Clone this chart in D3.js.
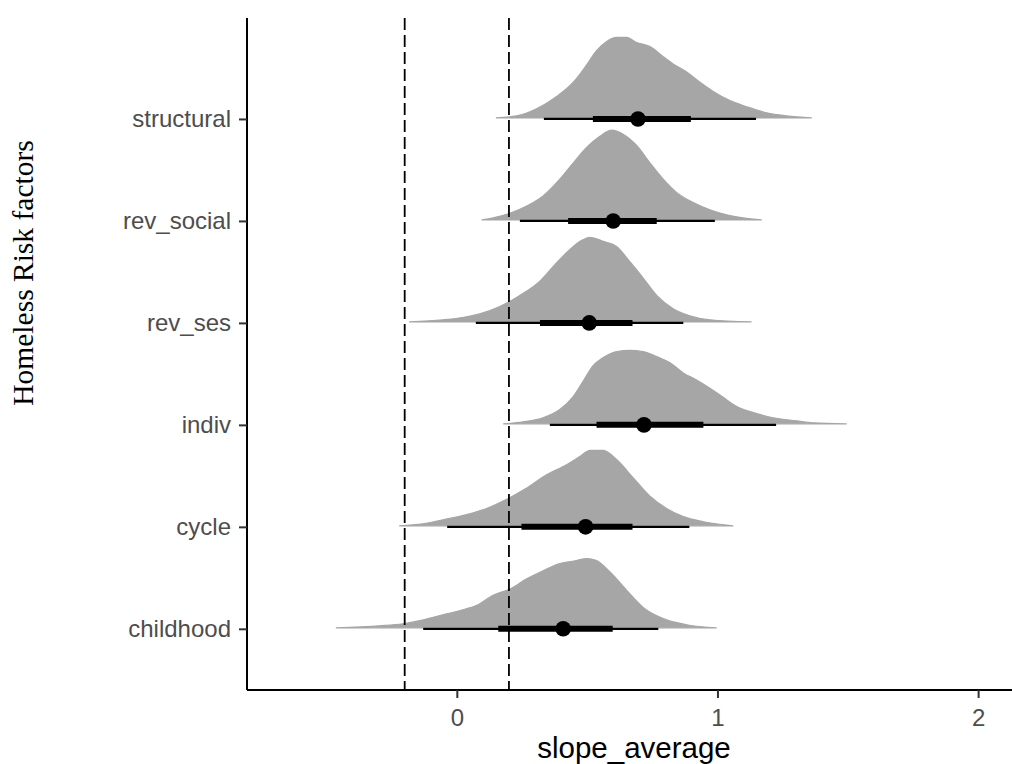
<!DOCTYPE html>
<html>
<head>
<meta charset="utf-8">
<script src="https://cdn.jsdelivr.net/npm/d3@7"></script>
<style>
    body { margin: 0; background: #fff; }
    svg { display: block; }
    .tick-label { font-family: 'Liberation Sans', Arial, sans-serif; font-size: 24px; fill: #4d4d4d; }
    .axis-title-x { font-family: 'Liberation Sans', Arial, sans-serif; font-size: 29.5px; fill: #000; }
    .axis-title-y { font-family: 'Liberation Serif', 'Times New Roman', serif; font-size: 29.5px; fill: #000; }
</style>
</head>
<body>
<div id="chart"></div>
<script>
// categories, bottom to top
const categories = ['childhood', 'cycle', 'indiv', 'rev_ses', 'rev_social', 'structural'];

// point estimate (median) per category
const medians = [0.408, 0.494, 0.718, 0.508, 0.600, 0.695];

// thick interval (66%) per category
const innerLo = [0.159, 0.248, 0.536, 0.319, 0.427, 0.522];
const innerHi = [0.598, 0.674, 0.946, 0.674, 0.767, 0.898];

// thin interval (95%) per category
const outerLo = [-0.129, -0.037, 0.357, 0.073, 0.242, 0.334];
const outerHi = [0.773, 0.892, 1.225, 0.869, 0.990, 1.148];

// density slabs: [slope value, height in row units]
const slabChildhood = [[-0.464, 0], [-0.296, 0.02], [-0.206, 0.04], [-0.142, 0.07], [-0.065, 0.12], [0.012, 0.17],
    [0.076, 0.22], [0.139, 0.32], [0.203, 0.38], [0.268, 0.48], [0.331, 0.56], [0.395, 0.63], [0.459, 0.66],
    [0.498, 0.68], [0.536, 0.66], [0.587, 0.55], [0.651, 0.37], [0.715, 0.20], [0.792, 0.09], [0.882, 0.03], [0.997, 0]];
const slabCycle = [[-0.221, 0], [-0.129, 0.02], [-0.053, 0.06], [0.037, 0.11], [0.114, 0.17], [0.191, 0.26],
    [0.268, 0.37], [0.344, 0.50], [0.421, 0.60], [0.472, 0.68], [0.511, 0.74], [0.562, 0.74], [0.613, 0.65],
    [0.677, 0.47], [0.741, 0.29], [0.805, 0.17], [0.869, 0.09], [0.946, 0.04], [1.061, 0]];
const slabIndiv = [[0.178, 0], [0.255, 0.02], [0.331, 0.06], [0.395, 0.14], [0.447, 0.27], [0.485, 0.42],
    [0.523, 0.57], [0.562, 0.65], [0.613, 0.71], [0.664, 0.72], [0.715, 0.71], [0.767, 0.66], [0.818, 0.60],
    [0.869, 0.50], [0.920, 0.43], [0.971, 0.35], [1.022, 0.26], [1.074, 0.17], [1.138, 0.11], [1.214, 0.06],
    [1.304, 0.03], [1.368, 0.01], [1.496, 0]];
const slabRevSes = [[-0.183, 0], [-0.053, 0.02], [0.037, 0.05], [0.127, 0.11], [0.203, 0.20], [0.255, 0.28],
    [0.319, 0.40], [0.383, 0.58], [0.434, 0.71], [0.479, 0.80], [0.511, 0.83], [0.562, 0.79], [0.613, 0.74],
    [0.664, 0.59], [0.715, 0.43], [0.767, 0.26], [0.830, 0.13], [0.894, 0.06], [0.971, 0.02], [1.131, 0]];
const slabRevSocial = [[0.095, 0], [0.139, 0.02], [0.203, 0.066], [0.268, 0.137], [0.331, 0.236], [0.395, 0.40],
    [0.447, 0.56], [0.498, 0.71], [0.549, 0.82], [0.594, 0.88], [0.638, 0.84], [0.690, 0.73], [0.741, 0.56],
    [0.792, 0.40], [0.843, 0.27], [0.907, 0.17], [0.971, 0.10], [1.035, 0.05], [1.099, 0.02], [1.170, 0]];
const slabStructural = [[0.150, 0], [0.229, 0.02], [0.306, 0.09], [0.383, 0.21], [0.447, 0.35], [0.498, 0.52],
    [0.536, 0.66], [0.575, 0.75], [0.613, 0.79], [0.651, 0.79], [0.690, 0.74], [0.741, 0.70], [0.792, 0.60],
    [0.830, 0.53], [0.882, 0.45], [0.933, 0.35], [0.984, 0.26], [1.048, 0.17], [1.112, 0.11], [1.189, 0.05],
    [1.266, 0.02], [1.362, 0]];
const slabs = [slabChildhood, slabCycle, slabIndiv, slabRevSes, slabRevSocial, slabStructural];

// x ticks and reference lines
const xTicks = [0, 1, 2];
const refLines = [-0.2, 0.2];

// layout
const width = 1012;
const height = 764;
const margin = {t: 18, r: 0, b: 74, l: 247};
const slabColor = '#a6a6a6';

const svg = d3.select('#chart')
    .append('svg')
    .attr('width', width)
    .attr('height', height);

// scales
const scaleX = d3.scaleLinear()
    .domain([-0.805, 2.13])
    .range([margin.l, width - margin.r]);

const scaleY = d3.scaleLinear()
    .domain([0.4, 6.99])
    .range([height - margin.b, margin.t]);

const rowY = i => scaleY(i + 1);

// slabs
const area = d3.area()
    .x(d => scaleX(d[0]))
    .y0(0)
    .y1(d => scaleY(d[1]) - scaleY(0))
    .curve(d3.curveMonotoneX);

const slabPlot = svg.append('g').classed('slabs', true);
slabPlot.selectAll('.slab')
    .data(slabs)
    .enter()
    .append('path')
    .classed('slab', true)
    .attr('transform', (d, i) => `translate(0,${rowY(i) - 1})`)
    .attr('d', area)
    .style('fill', slabColor)
    .style('stroke', slabColor)
    .style('stroke-width', 1.2);

// dashed reference lines
svg.append('g')
    .selectAll('line')
    .data(refLines)
    .enter()
    .append('line')
    .attr('x1', d => scaleX(d))
    .attr('x2', d => scaleX(d))
    .attr('y1', margin.t)
    .attr('y2', height - margin.b)
    .style('stroke', '#000')
    .style('stroke-width', 1.8)
    .style('stroke-dasharray', '12,5');

// point intervals
const intervals = svg.append('g').classed('intervals', true);
intervals.selectAll('.outer')
    .data(categories)
    .enter()
    .append('line')
    .attr('x1', (d, i) => scaleX(outerLo[i]))
    .attr('x2', (d, i) => scaleX(outerHi[i]))
    .attr('y1', (d, i) => rowY(i))
    .attr('y2', (d, i) => rowY(i))
    .style('stroke', '#000')
    .style('stroke-width', 2.3);

intervals.selectAll('.inner')
    .data(categories)
    .enter()
    .append('line')
    .attr('x1', (d, i) => scaleX(innerLo[i]))
    .attr('x2', (d, i) => scaleX(innerHi[i]))
    .attr('y1', (d, i) => rowY(i))
    .attr('y2', (d, i) => rowY(i))
    .style('stroke', '#000')
    .style('stroke-width', 6);

intervals.selectAll('circle')
    .data(medians)
    .enter()
    .append('circle')
    .attr('cx', d => scaleX(d))
    .attr('cy', (d, i) => rowY(i))
    .attr('r', 7.8)
    .style('fill', '#000');

// axes
const axisX = d3.axisBottom(scaleX)
    .tickValues(xTicks)
    .tickSize(8)
    .tickPadding(11)
    .tickFormat(d3.format('d'));

const axisXNode = svg.append('g')
    .attr('transform', `translate(0,${height - margin.b})`)
    .call(axisX);

const axisY = d3.axisLeft(d3.scalePoint().domain(categories).range([rowY(0), rowY(categories.length - 1)]))
    .tickSize(8)
    .tickPadding(8);

const axisYNode = svg.append('g')
    .attr('transform', `translate(${margin.l},0)`)
    .call(axisY);

[axisXNode, axisYNode].forEach(node => {
    node.select('.domain').style('stroke', '#000').style('stroke-width', 2);
    node.selectAll('.tick line').style('stroke', '#333').style('stroke-width', 2);
    node.selectAll('.tick text').attr('class', 'tick-label').attr('fill', null);
    node.attr('font-family', null).attr('font-size', null);
});
axisXNode.select('.domain').attr('d', `M${margin.l},0H${width}`);
axisYNode.select('.domain').attr('d', `M0,${margin.t}V${height - margin.b}`);

// axis titles
svg.append('text')
    .classed('axis-title-x', true)
    .attr('x', 634)
    .attr('y', 758)
    .attr('text-anchor', 'middle')
    .text('slope_average');

svg.append('text')
    .classed('axis-title-y', true)
    .attr('transform', 'translate(33,273) rotate(-90)')
    .attr('text-anchor', 'middle')
    .text('Homeless Risk factors');
</script>
</body>
</html>
